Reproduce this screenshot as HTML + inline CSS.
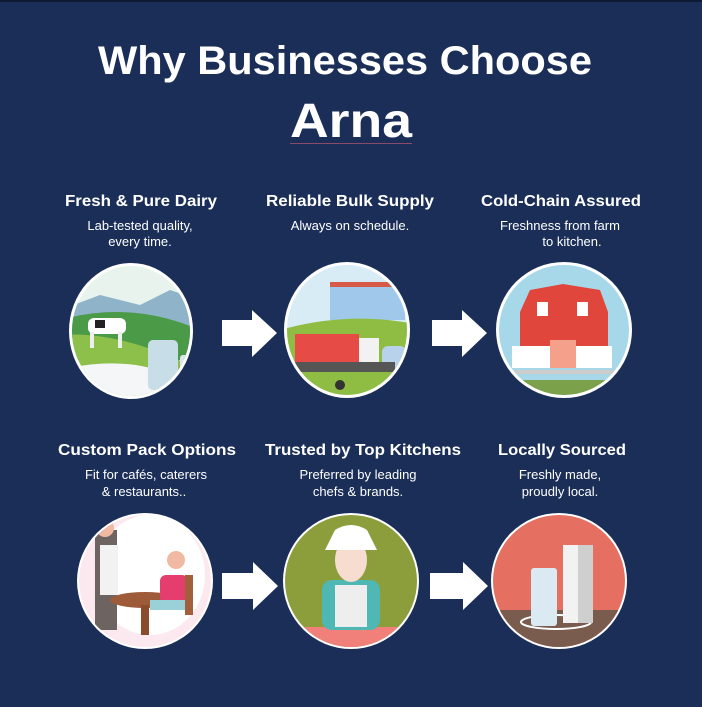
<!DOCTYPE html>
<html><head><meta charset="utf-8"><style>
html,body{margin:0;padding:0;background:#1a2e58;}
svg{display:block}
text{font-family:"Liberation Sans",sans-serif;fill:#fff}
</style></head><body>
<svg width="702" height="707" viewBox="0 0 702 707" xmlns="http://www.w3.org/2000/svg">
<rect width="702" height="707" fill="#1a2e58"/>
<rect width="702" height="2" fill="#0d1a33"/>
<defs>
<clipPath id="c1"><ellipse cx="131" cy="331" rx="59" ry="65"/></clipPath>
<clipPath id="c2"><ellipse cx="347" cy="330" rx="60" ry="65"/></clipPath>
<clipPath id="c3"><ellipse cx="564" cy="330" rx="65" ry="65"/></clipPath>
<clipPath id="c4"><ellipse cx="145" cy="581" rx="66" ry="66"/></clipPath>
<clipPath id="c5"><ellipse cx="351" cy="581" rx="66" ry="66"/></clipPath>
<clipPath id="c6"><ellipse cx="559" cy="581" rx="66" ry="66"/></clipPath>
</defs>
<text x="345" y="74" text-anchor="middle" font-size="40" font-weight="bold" textLength="494" lengthAdjust="spacingAndGlyphs">Why Businesses Choose</text>
<text x="351" y="137" text-anchor="middle" font-size="48" font-weight="bold" textLength="122" lengthAdjust="spacingAndGlyphs">Arna</text>
<rect x="290" y="143" width="122" height="1" fill="#8a4a6a"/>

<g font-weight="bold" font-size="16" text-anchor="middle">
<text x="141" y="206" textLength="152" lengthAdjust="spacingAndGlyphs">Fresh &amp; Pure Dairy</text>
<text x="350" y="206" textLength="168" lengthAdjust="spacingAndGlyphs">Reliable Bulk Supply</text>
<text x="561" y="206" textLength="160" lengthAdjust="spacingAndGlyphs">Cold-Chain Assured</text>
<text x="147" y="455" textLength="178" lengthAdjust="spacingAndGlyphs">Custom Pack Options</text>
<text x="363" y="455" textLength="196" lengthAdjust="spacingAndGlyphs">Trusted by Top Kitchens</text>
<text x="562" y="455" textLength="128" lengthAdjust="spacingAndGlyphs">Locally Sourced</text>
</g>
<g font-size="13" text-anchor="middle">
<text x="140" y="230">Lab-tested quality,</text>
<text x="140" y="246">every time.</text>
<text x="350" y="230">Always on schedule.</text>
<text x="560" y="230">Freshness from farm</text>
<text x="572" y="246">to kitchen.</text>
<text x="146" y="479">Fit for cafés, caterers</text>
<text x="144" y="496">&amp; restaurants..</text>
<text x="358" y="479">Preferred by leading</text>
<text x="358" y="496">chefs &amp; brands.</text>
<text x="560" y="479">Freshly made,</text>
<text x="560" y="496">proudly local.</text>
</g>

<!-- arrows -->
<g fill="#fff">
<path d="M222 320 H252 V310 L277 333 L252 357 V346 H222Z"/>
<path d="M432 320 H462 V310 L487 333 L462 357 V346 H432Z"/>
<path d="M222 573 H253 V562 L278 586 L253 610 V599 H222Z"/>
<path d="M430 573 H463 V562 L488 586 L463 610 V599 H430Z"/>
</g>

<!-- circle 1 -->
<ellipse cx="131" cy="331" rx="62" ry="68" fill="#fff"/>
<g clip-path="url(#c1)">
<rect x="60" y="260" width="150" height="140" fill="#e8f3ee"/>
<path d="M60 310 L100 295 L140 305 L170 290 L200 300 V340 H60Z" fill="#8fb3c8"/>
<path d="M60 320 Q130 300 200 330 V360 H60Z" fill="#4a9a48"/>
<path d="M60 335 Q120 330 200 370 V400 H60Z" fill="#8cc04a"/>
<path d="M60 370 Q140 350 200 390 V400 H60Z" fill="#f4f6f7"/>
<rect x="88" y="318" width="38" height="16" rx="6" fill="#fff"/>
<rect x="95" y="320" width="10" height="8" fill="#222"/>
<rect x="90" y="332" width="4" height="16" fill="#eee"/>
<rect x="118" y="332" width="4" height="16" fill="#eee"/>
<rect x="148" y="340" width="30" height="50" rx="5" fill="#c7dde8"/>
<rect x="180" y="355" width="12" height="30" rx="3" fill="#d9e8ef"/>
</g>

<!-- circle 2 -->
<ellipse cx="347" cy="330" rx="63" ry="68" fill="#fff"/>
<g clip-path="url(#c2)">
<rect x="280" y="260" width="140" height="140" fill="#d8ecf6"/>
<rect x="330" y="285" width="75" height="35" fill="#9fc8ea"/>
<rect x="330" y="282" width="75" height="5" fill="#d85a48"/>
<path d="M280 330 Q350 310 420 325 V400 H280Z" fill="#8fbd43"/>
<rect x="295" y="334" width="64" height="30" fill="#e64b45"/>
<rect x="359" y="338" width="20" height="28" fill="#f2f2f2"/>
<rect x="382" y="346" width="24" height="22" rx="6" fill="#b9d2ec"/>
<rect x="295" y="362" width="100" height="10" fill="#555"/>
<circle cx="340" cy="385" r="5" fill="#333"/>
</g>

<!-- circle 3 -->
<ellipse cx="564" cy="330" rx="68" ry="68" fill="#fff"/>
<g clip-path="url(#c3)">
<rect x="495" y="260" width="140" height="140" fill="#a6d8ea"/>
<rect x="495" y="380" width="140" height="20" fill="#7ba24a"/>
<path d="M520 312 L530 290 L563 284 L600 290 L608 312 V360 H520Z" fill="#e0463b"/>
<rect x="537" y="302" width="11" height="14" fill="#fff"/>
<rect x="577" y="302" width="11" height="14" fill="#fff"/>
<rect x="512" y="346" width="100" height="22" fill="#fff"/>
<rect x="550" y="340" width="26" height="28" fill="#f4a08a"/>
<rect x="510" y="370" width="104" height="4" fill="#ccc"/>
</g>

<!-- circle 4 -->
<ellipse cx="145" cy="581" rx="68" ry="68" fill="#fff"/>
<g clip-path="url(#c4)">
<rect x="75" y="510" width="140" height="140" fill="#fbe9ef"/>
<ellipse cx="150" cy="575" rx="55" ry="60" fill="#fff"/>
<rect x="95" y="530" width="22" height="100" fill="#6d6361"/>
<rect x="100" y="545" width="18" height="50" fill="#f2f2f2"/>
<circle cx="105" cy="528" r="9" fill="#f1b9a2"/>
<ellipse cx="145" cy="600" rx="35" ry="8" fill="#9e5b3a"/>
<rect x="141" y="605" width="8" height="30" fill="#8b4c2e"/>
<rect x="160" y="575" width="28" height="28" rx="6" fill="#e43d6e"/>
<circle cx="176" cy="560" r="9" fill="#f1b9a2"/>
<rect x="150" y="600" width="40" height="10" fill="#9ad1d8"/>
<rect x="185" y="575" width="8" height="40" fill="#a15f3c"/>
</g>

<!-- circle 5 -->
<ellipse cx="351" cy="581" rx="68" ry="68" fill="#fff"/>
<g clip-path="url(#c5)">
<rect x="280" y="510" width="140" height="140" fill="#8c9e3c"/>
<rect x="280" y="627" width="140" height="25" fill="#f08079"/>
<rect x="322" y="580" width="58" height="50" rx="10" fill="#4fb8b4"/>
<rect x="335" y="585" width="32" height="42" fill="#eeeeee"/>
<ellipse cx="351" cy="560" rx="16" ry="22" fill="#f6ddd0"/>
<path d="M325 550 L335 530 Q351 520 367 530 L377 550Z" fill="#fff"/>
</g>

<!-- circle 6 -->
<ellipse cx="559" cy="581" rx="68" ry="68" fill="#fff"/>
<g clip-path="url(#c6)">
<rect x="488" y="510" width="140" height="140" fill="#e56f60"/>
<rect x="488" y="610" width="140" height="40" fill="#7a5c4e"/>
<ellipse cx="556" cy="622" rx="35" ry="7" fill="none" stroke="#fff" stroke-width="2"/>
<rect x="531" y="568" width="26" height="58" rx="3" fill="#dbe9f2"/>
<rect x="563" y="545" width="30" height="78" fill="#f2f2f2"/>
<rect x="578" y="545" width="15" height="78" fill="#cfcfcf"/>
</g>
</svg>
</body></html>
